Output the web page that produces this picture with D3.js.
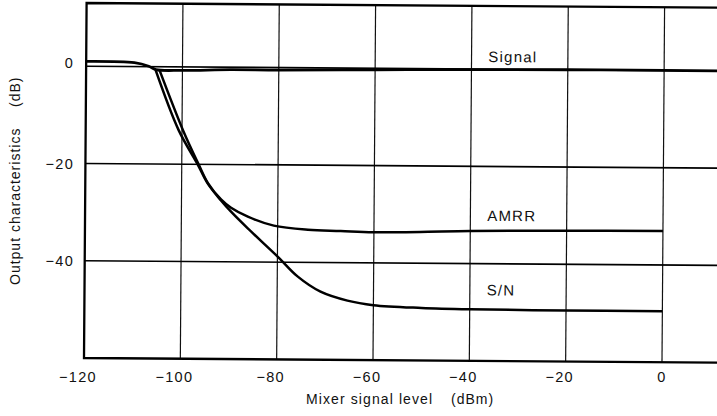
<!DOCTYPE html>
<html>
<head>
<meta charset="utf-8">
<script src="https://cdn.jsdelivr.net/npm/d3@7/dist/d3.min.js"></script>
<style>
  body { margin: 0; background: #fff; }
  text { font-family: "Liberation Sans", Arial, sans-serif; fill: #111; }
</style>
</head>
<body>
<div id="chart"></div>
<script>

// x ticks (dBm) and y ticks (dB)
var xTicks = [-120, -100, -80, -60, -40, -20, 0];
var yTicks = [0, -20, -40];

// curves, [dBm, dB]
var signalX = [-120, -110, -107, -105.5, -100, -90, -80, -60, -40, -20, 0, 12];
var signalY = [1.0, 0.8, 0.1, -0.6, -0.7, -0.5, -0.5, -0.3, -0.1, 0, 0, 0];

var amrrX = [-104.8, -99.8, -96.5, -94.5, -91.8, -89.7, -86.2, -80.8, -73.7, -66.9, -60, -40, -20, 0];
var amrrY = [-0.6, -13, -20, -23.9, -27.2, -28.9, -30.7, -32.5, -33.3, -33.5, -33.7, -33.3, -33.1, -33];

var snX = [-105.6, -100.7, -96.7, -94.6, -91.8, -89.7, -86.2, -79.9, -75.8, -71, -65.4, -60, -50, -40, -20, 0];
var snY = [-0.6, -13, -20, -23.9, -27.4, -29.7, -33.1, -38.9, -42.9, -46, -47.8, -48.7, -49.2, -49.4, -49.5, -49.5];

var curveLabels = ["Signal", "AMRR", "S/N"];
var labelAt = [[-36.5, 1.5], [-36.5, -31.2], [-36.5, -46.5]];

var options = {
	width : 717,
	height : 416,
	left : 84,
	right : 717,
	top : 3,
	bottom : 358,
	tilt : 0.42
};

var svg = d3.select("#chart").append("svg")
		.attr("width", options.width).attr("height", options.height);

var x = d3.scaleLinear().domain([-120, 0]).range([options.left, 662]);
var y = d3.scaleLinear().domain([-60, 13]).range([options.bottom, options.top]);

var minus = function(v) {
	return v < 0 ? "\u2212" + Math.abs(v) : "" + v;
};

// the scanned plot sits slightly skewed, so the frame gets a small turn
var plot = svg.append("g")
		.attr("transform", "rotate(" + options.tilt + "," + options.left + "," + options.bottom + ")");

// vertical grid
plot.selectAll(".vgrid").data(xTicks.slice(1)).enter().append("line")
		.attr("x1", function(d) { return x(d); })
		.attr("x2", function(d) { return x(d); })
		.attr("y1", options.top).attr("y2", options.bottom)
		.attr("stroke", "#111").attr("stroke-width", 1.2);

// horizontal grid
plot.selectAll(".hgrid").data(yTicks).enter().append("line")
		.attr("x1", options.left).attr("x2", options.right + 4)
		.attr("y1", function(d) { return y(d); })
		.attr("y2", function(d) { return y(d); })
		.attr("stroke", "#000").attr("stroke-width", 1.7);

// frame: top, left, bottom
plot.append("path")
		.attr("d", "M" + (options.right + 4) + "," + options.top
				+ "H" + options.left + "V" + options.bottom
				+ "H" + (options.right + 4))
		.attr("fill", "none").attr("stroke", "#000").attr("stroke-width", 2.3);

function pairs(xs, ys) {
	return xs.map(function(v, i) { return [v, ys[i]]; });
}

var line = d3.line()
		.x(function(d) { return x(d[0]); })
		.y(function(d) { return y(d[1]); })
		.curve(d3.curveCatmullRom.alpha(0.5));

[pairs(signalX, signalY), pairs(amrrX, amrrY), pairs(snX, snY)].forEach(function(pts, i) {
	plot.append("path").attr("d", line(pts))
			.attr("fill", "none").attr("stroke", "#000")
			.attr("stroke-width", i === 0 ? 2.8 : 2.5)
			.attr("stroke-linejoin", "round");
});

// curve names
plot.selectAll(".curve-label").data(curveLabels).enter().append("text")
		.attr("x", function(d, i) { return x(labelAt[i][0]); })
		.attr("y", function(d, i) { return y(labelAt[i][1]); })
		.attr("font-size", 15).attr("letter-spacing", 1.2)
		.text(function(d) { return d; });

// tick labels
svg.selectAll(".x-tick").data(xTicks).enter().append("text")
		.attr("x", function(d) { return x(d) + (d < 0 ? -6 : 0); })
		.attr("y", 382)
		.attr("text-anchor", "middle")
		.attr("font-size", 14.5).attr("letter-spacing", 1.3)
		.text(minus);

svg.selectAll(".y-tick").data(yTicks).enter().append("text")
		.attr("x", 74)
		.attr("y", function(d) { return y(d) - (d === 0 ? 3 : 0); })
		.attr("dy", "0.35em")
		.attr("text-anchor", "end")
		.attr("font-size", 14.5).attr("letter-spacing", 1.3)
		.text(minus);

// axis titles
svg.append("text").attr("x", 306).attr("y", 404)
		.attr("font-size", 14).attr("letter-spacing", 1.1)
		.text("Mixer signal level");
svg.append("text").attr("x", 451).attr("y", 404)
		.attr("font-size", 14).attr("letter-spacing", 1)
		.text("(dBm)");

svg.append("g").attr("transform", "translate(20,285) rotate(-90)")
		.append("text").attr("x", 0).attr("y", 0)
		.attr("font-size", 14).attr("letter-spacing", 1)
		.text("Output characteristics");
svg.append("g").attr("transform", "translate(20,107) rotate(-90)")
		.append("text").attr("x", 0).attr("y", 0)
		.attr("font-size", 14).attr("letter-spacing", 1)
		.text("(dB)");

</script>
</body>
</html>
